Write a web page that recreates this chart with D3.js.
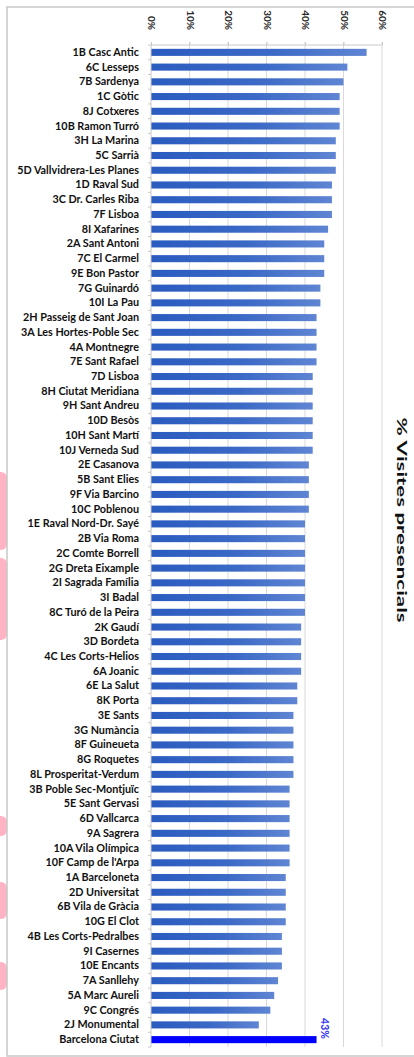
<!DOCTYPE html>
<html>
<head>
<meta charset="utf-8">
<script src="https://cdnjs.cloudflare.com/ajax/libs/d3/7.8.5/d3.min.js"></script>
<style>
    html, body { margin: 0; padding: 0; background: #fff; }
    #chart { width: 414px; height: 1057px; overflow: hidden; }
    text { font-family: Lato, "Open Sans", sans-serif; font-weight: bold; }
</style>
</head>
<body>
<div id="chart"></div>
<script>
const centres = [
    '1B Casc Antic', '6C Lesseps', '7B Sardenya', '1C Gòtic', '8J Cotxeres', '10B Ramon Turró',
    '3H La Marina', '5C Sarrià', '5D Vallvidrera-Les Planes', '1D Raval Sud', '3C Dr. Carles Riba',
    '7F Lisboa', '8I Xafarines', '2A Sant Antoni', '7C El Carmel', '9E Bon Pastor', '7G Guinardó',
    '10I La Pau', '2H Passeig de Sant Joan', '3A Les Hortes-Poble Sec', '4A Montnegre',
    '7E Sant Rafael', '7D Lisboa', '8H Ciutat Meridiana', '9H Sant Andreu', '10D Besòs',
    '10H Sant Martí', '10J Verneda Sud', '2E Casanova', '5B Sant Elies', '9F Via Barcino',
    '10C Poblenou', '1E Raval Nord-Dr. Sayé', '2B Via Roma', '2C Comte Borrell', '2G Dreta Eixample',
    '2I Sagrada Família', '3I Badal', '8C Turó de la Peira', '2K Gaudí', '3D Bordeta',
    '4C Les Corts-Helios', '6A Joanic', '6E La Salut', '8K Porta', '3E Sants', '3G Numància',
    '8F Guineueta', '8G Roquetes', '8L Prosperitat-Verdum', '3B Poble Sec-Montjuïc',
    '5E Sant Gervasi', '6D Vallcarca', '9A Sagrera', '10A Vila Olímpica', "10F Camp de l'Arpa",
    '1A Barceloneta', '2D Universitat', '6B Vila de Gràcia', '10G El Clot', '4B Les Corts-Pedralbes',
    '9I Casernes', '10E Encants', '7A Sanllehy', '5A Marc Aureli', '9C Congrés', '2J Monumental',
    'Barcelona Ciutat'
];

const visites = [
    0.56, 0.51, 0.50, 0.49, 0.49, 0.49,
    0.48, 0.48, 0.48, 0.47, 0.47,
    0.47, 0.46, 0.45, 0.45, 0.45, 0.44,
    0.44, 0.43, 0.43, 0.43,
    0.43, 0.42, 0.42, 0.42, 0.42,
    0.42, 0.42, 0.41, 0.41, 0.41,
    0.41, 0.40, 0.40, 0.40, 0.40,
    0.40, 0.40, 0.40, 0.39, 0.39,
    0.39, 0.39, 0.38, 0.38, 0.37, 0.37,
    0.37, 0.37, 0.37, 0.36,
    0.36, 0.36, 0.36, 0.36, 0.36,
    0.35, 0.35, 0.35, 0.35, 0.34,
    0.34, 0.34, 0.33, 0.32, 0.31, 0.28,
    0.43
];

const xTicks = [0, 0.1, 0.2, 0.3, 0.4, 0.5, 0.6];
const totalLabel = 'Barcelona Ciutat';
const axisTitle = '% Visites presencials';

class BarChart {
    constructor(selector) {
        this.width = 414;
        this.height = 1057;
        this.margin = { top: 45, right: 32, bottom: 10, left: 151 };

        this.svg = d3.select(selector)
            .append('svg')
            .attr('width', this.width)
            .attr('height', this.height);

        this.rows = centres.map((name, i) => ({ name: name, value: visites[i] }));

        this.x = d3.scaleLinear()
            .domain([0, 0.6])
            .range([this.margin.left, 382]);
        this.y = d3.scaleBand()
            .domain(centres)
            .range([this.margin.top, 1047])
            .paddingInner(0.52)
            .paddingOuter(0.26);

        this._drawBackground();
        this._drawGrid();
        this._drawBars();
        this._drawAxes();
        this._drawTitle();
    }

    _drawBackground() {
        /* pink shapes peeking out behind the chart frame */
        const deco = this.svg.append('g').attr('fill', '#ffb3c3');
        [[472, 78], [558, 82], [816, 20], [882, 37], [962, 28]].forEach(([y, h]) => {
            deco.append('rect')
                .attr('x', -6).attr('y', y)
                .attr('width', 13).attr('height', h)
                .attr('rx', 6);
        });

        this.svg.append('rect')
            .attr('x', 7).attr('y', 7)
            .attr('width', 420).attr('height', 1049)
            .attr('fill', '#fff')
            .attr('stroke', '#c8c8c8')
            .attr('stroke-width', 1.5);

        const grad = this.svg.append('defs')
            .append('linearGradient')
            .attr('id', 'barFill')
            .attr('x1', 0).attr('x2', 1).attr('y1', 0).attr('y2', 0);
        grad.append('stop').attr('offset', '0%').attr('stop-color', '#2a5bbf');
        grad.append('stop').attr('offset', '55%').attr('stop-color', '#3b69c6');
        grad.append('stop').attr('offset', '100%').attr('stop-color', '#5f85d3');
    }

    _drawGrid() {
        this.svg.append('g')
            .attr('class', 'grid')
            .selectAll('line')
            .data(xTicks.slice(1))
            .join('line')
            .attr('x1', (d) => this.x(d))
            .attr('x2', (d) => this.x(d))
            .attr('y1', this.margin.top - 3)
            .attr('y2', this.y.range()[1])
            .attr('stroke', '#d9d9d9')
            .attr('stroke-width', 1);
    }

    _drawBars() {
        this.svg.append('g')
            .attr('class', 'bars')
            .selectAll('rect')
            .data(this.rows)
            .join('rect')
            .attr('x', this.x(0))
            .attr('y', (d) => this.y(d.name))
            .attr('width', (d) => this.x(d.value) - this.x(0))
            .attr('height', this.y.bandwidth())
            .attr('fill', (d) => d.name === totalLabel ? '#0000ff' : 'url(#barFill)');

        /* value label only for the city total */
        const total = this.rows.find((d) => d.name === totalLabel);
        const lx = this.x(total.value) + 4;
        const ly = this.y(total.name) - 18;
        this.svg.append('text')
            .attr('transform', `translate(${lx},${ly}) rotate(90)`)
            .attr('dy', '-0.05em')
            .attr('font-size', 10.5)
            .attr('font-weight', 'bold')
            .attr('fill', '#3030ff')
            .text(d3.format('.0%')(total.value));
    }

    _drawAxes() {
        const top = this.svg.append('g')
            .attr('class', 'x-axis')
            .attr('transform', `translate(0,${this.margin.top})`)
            .call(d3.axisTop(this.x).tickValues(xTicks).tickFormat(d3.format('.0%')).tickSize(3).tickPadding(0));
        top.select('.domain').attr('stroke', '#c8c8c8').attr('d', `M${this.x(0)},0H${this.x(0.6)}`);
        top.selectAll('.tick line').attr('stroke', '#c8c8c8');
        top.selectAll('.tick text')
            .attr('transform', 'translate(0,-15) rotate(90)')
            .attr('x', 0).attr('y', 0)
            .attr('dy', '0.35em')
            .attr('text-anchor', 'end')
            .attr('font-size', 10)
            .attr('font-weight', 'bold')
            .attr('fill', '#262626');

        /* tick marks sit on the category boundaries */
        const step = this.y.step();
        const left = this.svg.append('g')
            .attr('class', 'y-axis')
            .attr('transform', `translate(${this.margin.left},0)`)
            .call(d3.axisLeft(this.y).tickSize(0).tickPadding(12));
        left.select('.domain').attr('stroke', '#c8c8c8').attr('d', `M0,${this.margin.top}V${this.y.range()[1]}`);
        left.selectAll('.tick text')
            .attr('font-size', 10.8)
            .attr('font-weight', 'bold')
            .attr('fill', '#111');
        left.selectAll('.boundary')
            .data(d3.range(centres.length + 1))
            .join('line')
            .attr('class', 'boundary')
            .attr('x1', -3).attr('x2', 0)
            .attr('y1', (i) => this.margin.top + i * step)
            .attr('y2', (i) => this.margin.top + i * step)
            .attr('stroke', '#c8c8c8');
    }

    _drawTitle() {
        /* the picture is stretched along the title, so the glyphs are too */
        this.svg.append('text')
            .attr('transform', 'translate(397,520) rotate(90)')
            .attr('text-anchor', 'middle')
            .attr('font-size', 13)
            .attr('font-weight', 'bold')
            .attr('textLength', 205)
            .attr('lengthAdjust', 'spacingAndGlyphs')
            .attr('fill', '#111')
            .text(axisTitle);
    }
}

new BarChart('#chart');
</script>
</body>
</html>
